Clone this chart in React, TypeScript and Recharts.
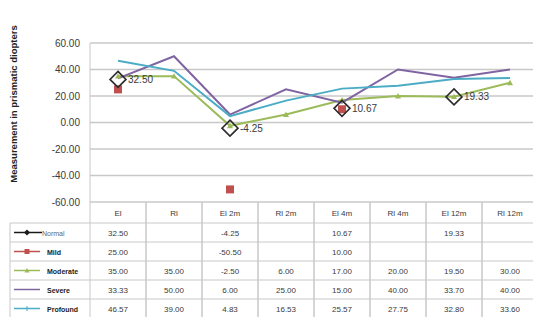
import React from 'react';
import { ComposedChart, Line, XAxis, YAxis, CartesianGrid, LabelList, Label } from 'recharts';

const CATEGORIES = ['El', 'Rl', 'El 2m', 'Rl 2m', 'El 4m', 'Rl 4m', 'El 12m', 'Rl 12m'];
const NORMAL = [32.5, null, -4.25, null, 10.67, null, 19.33, null];
const MILD = [25, null, -50.5, null, 10, null, null, null];
const MODERATE = [35, 35, -2.5, 6, 17, 20, 19.5, 30];
const SEVERE = [33.33, 50, 6, 25, 15, 40, 33.7, 40];
const PROFOUND = [46.57, 39, 4.83, 16.53, 25.57, 27.75, 32.8, 33.6];
const Y_TICKS = [-60, -40, -20, 0, 20, 40, 60];

const SERIES = [
  { key: 'normal', name: 'Normal', values: NORMAL, color: '#1a1a1a', marker: 'diamond', bold: false },
  { key: 'mild', name: 'Mild', values: MILD, color: '#c0504d', marker: 'square', bold: true },
  { key: 'moderate', name: 'Moderate', values: MODERATE, color: '#9bbb59', marker: 'triangle', bold: true },
  { key: 'severe', name: 'Severe', values: SEVERE, color: '#8064a2', marker: 'none', bold: true },
  { key: 'profound', name: 'Profound', values: PROFOUND, color: '#4bacc6', marker: 'plus', bold: true },
];

const data = CATEGORIES.map((c, i) => {
  const row: any = { cat: c };
  SERIES.forEach((s) => (row[s.key] = s.values[i]));
  return row;
});

const W = 540;
const H = 317;
const LEFT = 90;
const RIGHT = 2;
const TOP = 43;
const AXIS_H = 115;
const PLOT_BOTTOM = H - AXIS_H;
const COL_W = (W - LEFT - RIGHT) / CATEGORIES.length;
const HEADER_H = 21;
const ROW_H = 19;
const GRID = '#c8c8c8';
const TEXT = '#3a3a3a';
const FONT = '"Liberation Sans", Arial, sans-serif';

const marker = (type: string, x: number, y: number, color: string, s: number) => {
  if (type === 'diamond')
    return <path d={`M${x},${y - s} L${x + s},${y} L${x},${y + s} L${x - s},${y} Z`} fill="none" stroke={color} strokeWidth={1.6} />;
  if (type === 'square') return <rect x={x - s} y={y - s} width={s * 2} height={s * 2} fill={color} />;
  if (type === 'triangle')
    return <path d={`M${x},${y - s} L${x + s},${y + s * 0.8} L${x - s},${y + s * 0.8} Z`} fill={color} />;
  if (type === 'plus')
    return (
      <g stroke={color} strokeWidth={1}>
        <line x1={x - s} y1={y} x2={x + s} y2={y} />
        <line x1={x} y1={y - s} x2={x} y2={y + s} />
      </g>
    );
  return null;
};

const TableTick = (props: any) => {
  const { x, index, payload } = props;
  const left = x - COL_W / 2;
  const rowsTop = PLOT_BOTTOM + HEADER_H;
  return (
    <g fontFamily={FONT}>
      <line x1={left} y1={PLOT_BOTTOM} x2={left} y2={H} stroke={GRID} />
      <line x1={left + COL_W} y1={PLOT_BOTTOM} x2={left + COL_W} y2={H} stroke={GRID} />
      <text x={x} y={PLOT_BOTTOM + 14} textAnchor="middle" fontSize={8} fill={TEXT}>
        {payload.value}
      </text>
      {SERIES.map((s, r) => {
        const v = s.values[index];
        const top = rowsTop + r * ROW_H;
        return (
          <g key={s.key}>
            <line x1={left} y1={top} x2={left + COL_W} y2={top} stroke={GRID} />
            {v != null && (
              <text x={x} y={top + 13} textAnchor="middle" fontSize={8} fill={TEXT}>
                {v.toFixed(2)}
              </text>
            )}
          </g>
        );
      })}
      {index === 0 && (
        <g>
          <line x1={10} y1={rowsTop} x2={10} y2={H} stroke={GRID} />
          {SERIES.map((s, r) => {
            const top = rowsTop + r * ROW_H;
            const cy = top + ROW_H / 2;
            return (
              <g key={s.key}>
                <line x1={10} y1={top} x2={left} y2={top} stroke={GRID} />
                <line x1={14} y1={cy} x2={s.bold ? 40 : 42} y2={cy} stroke={s.color} strokeWidth={1.5} />
                {marker(s.marker === 'diamond' ? 'dsolid' : s.marker, 27, cy, s.color, 2.5)}
                {s.marker === 'diamond' && (
                  <path d={`M27,${cy - 3} L30,${cy} L27,${cy + 3} L24,${cy} Z`} fill={s.color} />
                )}
                <text
                  x={s.bold ? 47 : 42}
                  y={cy + 3}
                  fontSize={7}
                  fontWeight={s.bold ? 'bold' : 'normal'}
                  fill={s.bold ? '#222' : '#666'}
                >
                  {s.name}
                </text>
              </g>
            );
          })}
        </g>
      )}
    </g>
  );
};

const dotFor = (type: string, color: string, s: number) => (p: any) => {
  if (p.value == null || p.cy == null || isNaN(p.cy)) return <g key={`e-${p.index}`} />;
  return <g key={`d-${p.index}`}>{marker(type, p.cx, p.cy, color, s)}</g>;
};

export default function App() {
  return (
    <div style={{ position: 'fixed', left: 0, top: 0, width: 533, height: 317, overflow: 'hidden', background: '#fff' }}>
      <ComposedChart width={W} height={H} data={data} margin={{ top: TOP, right: RIGHT, bottom: 0, left: 0 }}>
        <CartesianGrid horizontal vertical={false} stroke={GRID} strokeWidth={1.3} />
        <XAxis
          dataKey="cat"
          scale="band"
          height={AXIS_H}
          axisLine={false}
          tickLine={false}
          interval={0}
          tick={<TableTick />}
        />
        <YAxis
          width={LEFT}
          domain={[-60, 60]}
          ticks={Y_TICKS}
          tickFormatter={(v: number) => v.toFixed(2)}
          axisLine={{ stroke: GRID }}
          tickLine={false}
          tickMargin={4}
          tick={{ fontSize: 10, fill: TEXT, fontFamily: FONT }}
        >
          <Label
            content={() => (
              <text
                x={17}
                y={104}
                transform="rotate(-90 17 104)"
                textAnchor="middle"
                fontSize={9.5}
                fontWeight="bold"
                fill="#222"
                fontFamily={FONT}
              >
                Measurement in prismatic diopters
              </text>
            )}
          />
        </YAxis>
        <Line dataKey="moderate" stroke="#9bbb59" strokeWidth={2} dot={dotFor('triangle', '#9bbb59', 3)} isAnimationActive={false} />
        <Line dataKey="severe" stroke="#8064a2" strokeWidth={2} dot={false} isAnimationActive={false} />
        <Line dataKey="profound" stroke="#4bacc6" strokeWidth={2} dot={false} isAnimationActive={false} />
        <Line dataKey="mild" stroke="none" dot={dotFor('square', '#c0504d', 4)} isAnimationActive={false} />
        <Line dataKey="normal" stroke="none" dot={dotFor('diamond', '#2b2b2b', 8)} isAnimationActive={false}>
          <LabelList
            dataKey="normal"
            position="right"
            offset={10}
            fontSize={10}
            fill={TEXT}
            fontFamily={FONT}
            formatter={(v: any) => (v == null ? '' : Number(v).toFixed(2))}
          />
        </Line>
      </ComposedChart>
    </div>
  );
}
